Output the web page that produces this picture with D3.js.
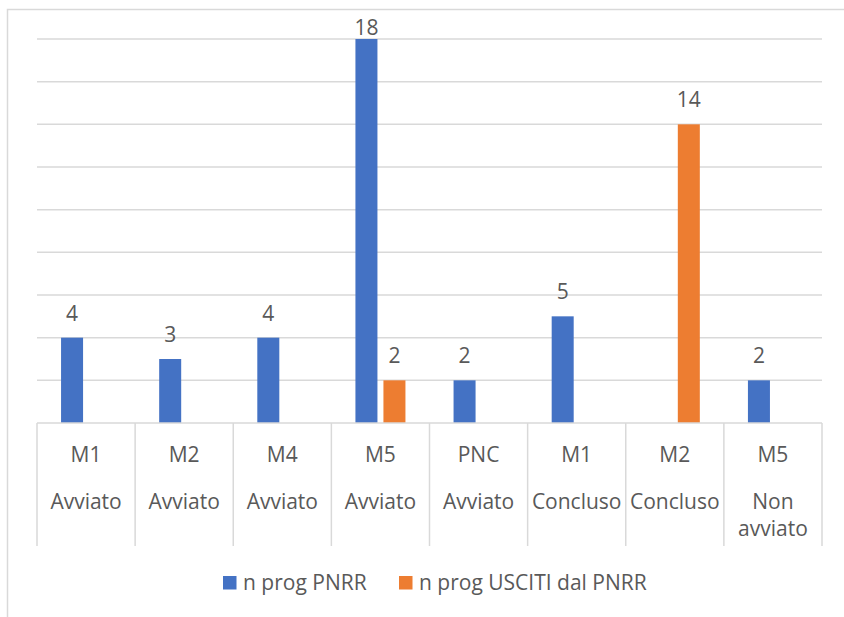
<!DOCTYPE html>
<html>
<head>
<meta charset="utf-8">
<script src="https://cdn.jsdelivr.net/npm/d3@7"></script>
<style>
  html, body { margin: 0; padding: 0; background: #fff; }
  svg { display: block; }
  text { font-family: "Open Sans", sans-serif; fill: #595959; }
</style>
</head>
<body>
<svg id="chart" width="844" height="617"></svg>
<script>
const mission = ["M1", "M2", "M4", "M5", "PNC", "M1", "M2", "M5"];
const status = ["Avviato", "Avviato", "Avviato", "Avviato", "Avviato", "Concluso", "Concluso", "Non avviato"];
const seriesNames = ["n prog PNRR", "n prog USCITI dal PNRR"];
const progPNRR = [4, 3, 4, 18, 2, 5, null, 2];
const progUsciti = [null, null, null, 2, null, null, 14, null];
const yTicks = [0, 2, 4, 6, 8, 10, 12, 14, 16, 18];
const colors = ["#4472C4", "#ED7D31"];

(function () {
const svg = d3.select("#chart");
const plotLeft = 37, plotRight = 822, plotTop = 39, base = 423, axisBottom = 546;
const fontSize = 21;

svg.append("rect")
  .attr("x", 7.5).attr("y", 9.5).attr("width", 900).attr("height", 700)
  .attr("fill", "none").attr("stroke", "#d9d9d9").attr("stroke-width", 1.5);

const idx = mission.map((d, i) => i);
const x0 = d3.scaleBand().domain(idx).range([plotLeft, plotRight]).padding(0);
const x1 = d3.scaleBand().domain([0, 1]).range([0, x0.bandwidth()])
  .paddingInner(0.214).paddingOuter(0.859);
const y = d3.scaleLinear().domain([0, 18]).range([base, plotTop]);

svg.append("g").selectAll("line").data(yTicks.filter(t => t > 0)).join("line")
  .attr("x1", plotLeft).attr("x2", plotRight)
  .attr("y1", d => y(d)).attr("y2", d => y(d))
  .attr("stroke", "#d9d9d9").attr("stroke-width", 1.5);

const series = [progPNRR, progUsciti];
const barData = [];
series.forEach((arr, s) => arr.forEach((v, i) => { if (v != null) barData.push({ i, s, v }); }));

svg.append("g").selectAll("rect").data(barData).join("rect")
  .attr("x", d => x0(d.i) + x1(d.s))
  .attr("width", x1.bandwidth())
  .attr("y", d => y(d.v))
  .attr("height", d => y(0) - y(d.v))
  .attr("fill", d => colors[d.s]);

// labels kept inside the chart area (Excel pushes the top one down)
svg.append("g").selectAll("text").data(barData).join("text")
  .attr("x", d => x0(d.i) + x1(d.s) + x1.bandwidth() / 2)
  .attr("y", d => Math.max(y(d.v) - 17, 35))
  .attr("text-anchor", "middle")
  .attr("font-size", fontSize)
  .text(d => d.v);

const ax = svg.append("g");
ax.append("line").attr("x1", plotLeft).attr("x2", plotRight).attr("y1", base).attr("y2", base)
  .attr("stroke", "#d9d9d9").attr("stroke-width", 1.5);
const bounds = idx.map(i => x0(i)).concat([plotRight]);
ax.selectAll("line.sep").data(bounds).join("line").attr("class", "sep")
  .attr("x1", d => d).attr("x2", d => d).attr("y1", base).attr("y2", axisBottom)
  .attr("stroke", "#d9d9d9").attr("stroke-width", 1.5);

ax.selectAll("text.m").data(idx).join("text").attr("class", "m")
  .attr("x", i => x0(i) + x0.bandwidth() / 2)
  .attr("y", 462)
  .attr("text-anchor", "middle").attr("font-size", fontSize)
  .text(i => mission[i]);

idx.forEach(i => {
  const cx = x0(i) + x0.bandwidth() / 2;
  const words = status[i].split(" ");
  const lines = words.length > 1 ? words : [status[i]];
  lines.forEach((ln, k) => {
    ax.append("text").attr("x", cx).attr("y", 509 + k * 27)
      .attr("text-anchor", "middle").attr("font-size", fontSize).text(ln);
  });
});

const legX = [223, 399];
const lg = svg.append("g");
seriesNames.forEach((name, s) => {
  lg.append("rect").attr("x", legX[s]).attr("y", 576).attr("width", 13.5).attr("height", 13.5)
    .attr("fill", colors[s]);
  lg.append("text").attr("x", legX[s] + 20).attr("y", 589.5)
    .attr("font-size", fontSize).text(name);
});
})();
</script>
</body>
</html>
